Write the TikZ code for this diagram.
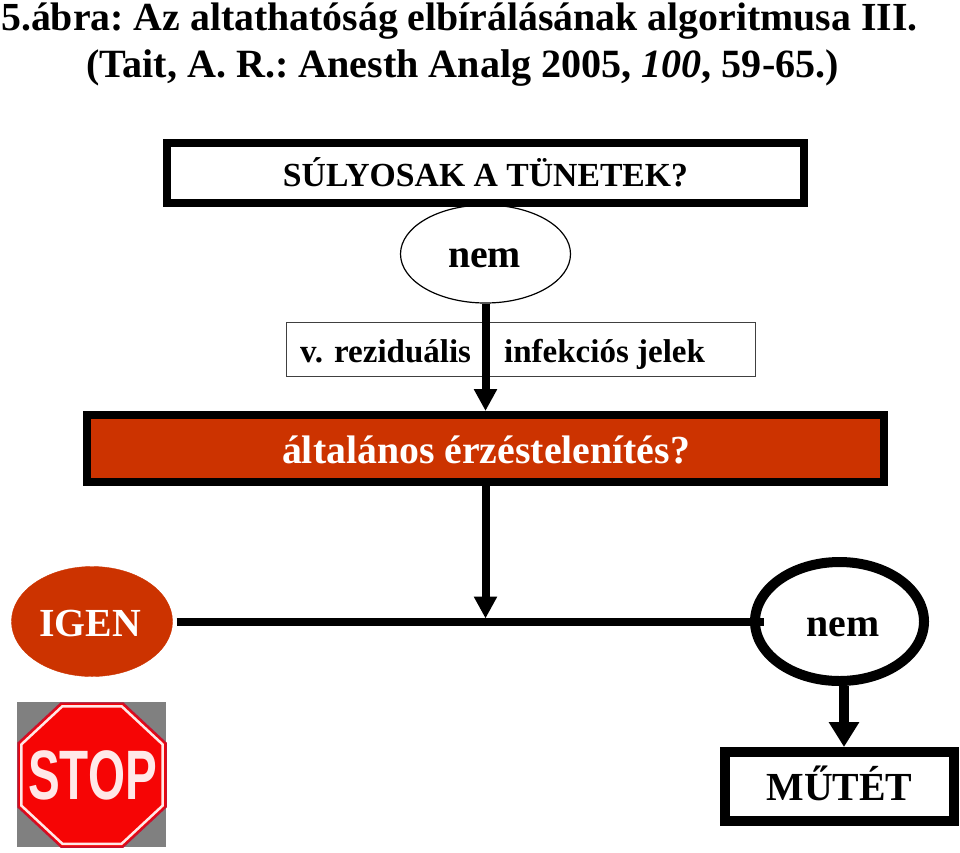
\documentclass[tikz,border=0pt]{standalone}
\usepackage{fontspec}
\setmainfont{Liberation Serif}
\newfontfamily\signfont{Liberation Sans}
\usetikzlibrary{arrows.meta,shapes.geometric}
\definecolor{brick}{HTML}{CC3300}
\definecolor{signgray}{HTML}{808080}
\definecolor{signred}{HTML}{F60505}
\definecolor{signedge}{HTML}{C8102E}
\definecolor{signwhite}{HTML}{FFE8E8}
\newcommand{\stopoutline}{(-31,-72) -- (31,-72) -- (74,-32) -- (74,32) -- (31,72) -- (-31,72) -- (-74,32) -- (-74,-32) -- cycle}
\begin{document}
\begin{tikzpicture}[
			x=1pt,y=-1pt,
			every node/.style={font=\fontsize{33}{40}\selectfont\bfseries,inner sep=0pt},
			title/.style={anchor=base west,font=\fontsize{39.8}{46}\selectfont\bfseries\frenchspacing},
			big/.style={anchor=base,font=\fontsize{39.8}{46}\selectfont\bfseries},
			box/.style={
				draw,
				line width=8pt,
				align=center
			},
			oval/.style={
				draw,
				ellipse
			},
			flow/.style={
				line width=8pt,
				-{Triangle[length=22pt,width=22pt]}
			}
			]
			\useasboundingbox (0,0) rectangle (960,852);
			
			\node[title] (head1) at (1,30)
			{5.ábra: Az altathatóság elbírálásának algoritmusa III.};
			
			\node[title,font=\fontsize{40.1}{46}\selectfont\bfseries\frenchspacing] (head2) at (86,77)
			{(Tait, A. R.: Anesth Analg 2005, \textit{100}, 59-65.)};
			
			\node[oval,line width=1.2pt,minimum width=170pt,minimum height=98pt] (nemA) at (485.5,254) {};
			\node[big] (nemAtext) at (484.5,267) {nem};
			
			\node[box,minimum width=637pt,minimum height=60pt] (tunet) at (485.5,173) {};
			\node[anchor=base,font=\fontsize{33.7}{40}\selectfont\bfseries] (tunettext) at (485.5,186) {SÚLYOSAK A TÜNETEK?};
			
			\node[draw,line width=1pt,draw=black!75,minimum width=469pt,minimum height=54pt] (resid) at (520.5,349) {};
			\node[anchor=base west] (residA) at (300,362) {v. reziduális};
			\node[anchor=base west] (residB) at (504,362) {infekciós jelek};
			
			\node[box,fill=brick,minimum width=797pt,minimum height=67pt] (altal) at (485.5,448.5) {};
			\node[big,text=white] (altaltext) at (486,463) {általános érzéstelenítés?};
			
			\node[oval,draw=brick,fill=brick,minimum width=161pt,minimum height=110pt] (igen) at (92,621.5) {};
			\node[big,text=white] (igentext) at (90,636) {IGEN};
			
			\node[oval,line width=10pt,minimum width=169pt,minimum height=119pt] (nemB) at (839.5,621.5) {};
			\node[big] (nemBtext) at (843,636) {nem};
			
			\node[box,line width=10pt,minimum width=229pt,minimum height=69pt] (mutet) at (839.5,786.5) {};
			\node[big] (mutettext) at (839.5,800) {MŰTÉT};
			
			% stop sign
			\fill[signgray] (17,702) rectangle (166,847);
			\begin{scope}[shift={(92,775)}]
				\draw[fill=signred,draw=signedge,line width=1.5pt] \stopoutline;
				\draw[signwhite,line width=2.5pt,scale=.955] \stopoutline;
			\end{scope}
			\node[text=signwhite,font=\fontsize{70}{70}\selectfont\signfont\bfseries] (stop) at (92.5,775)
			{\scalebox{.68}[1]{STOP}};
			
			\draw[flow] (nemA.south) -- (altal.north);
			\draw[flow,shorten >=3pt] (altal.south) -- (altal.south |- igen.east);
			
			\draw[line width=8pt,shorten <=4pt,shorten >=-14pt] (igen.east) -- (nemB.west);
			
			\draw[line width=10pt,-{Triangle[length=25pt,width=29pt]}] ([xshift=4.5pt]nemB.south) -- ([xshift=4.5pt]mutet.north);
			
		\end{tikzpicture}
\end{document}
